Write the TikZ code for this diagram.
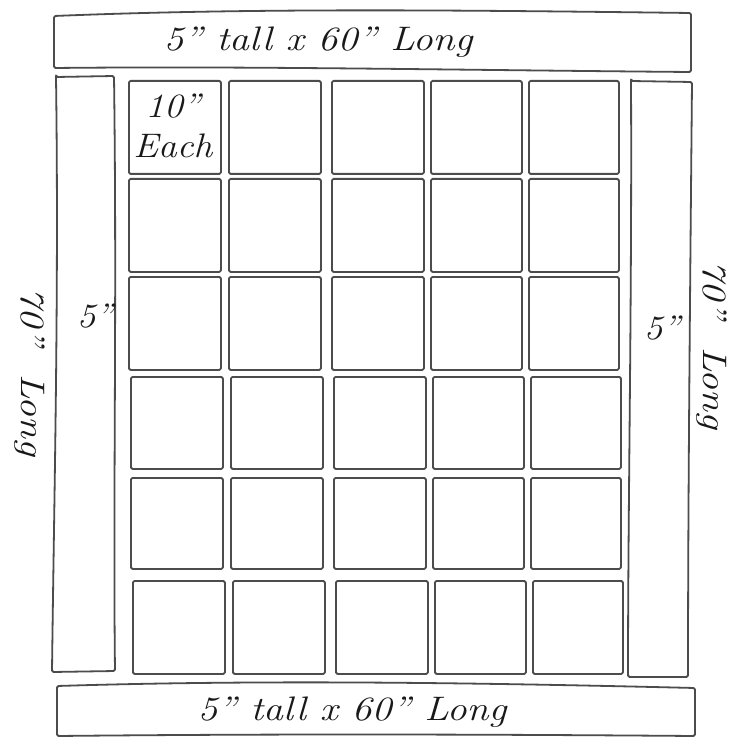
\documentclass[tikz,border=0pt]{standalone}
\usepackage{fontspec}
\begin{document}
\begin{tikzpicture}[x=1pt,y=-1pt,line join=round]
\tikzset{
  edge/.style={draw=black!70, line width=1.8pt, rounded corners=1.5pt},
  tile/.style={edge, inner sep=0pt, anchor=north west},
  lbl/.style={font=\itshape\fontsize{34}{36}\selectfont, text=black!90, inner sep=0pt},
  small/.style={font=\itshape\fontsize{34}{40}\selectfont, text=black!90, inner sep=0pt, align=center}
}
\useasboundingbox (0,0) rectangle (737,738);
\fill[white] (0,0) rectangle (737,738);
% top band
\draw[edge] (54,16) .. controls (250,8) and (450,10) .. (691,13) -- (691,72)
  .. controls (450,70) and (250,66) .. (54,68) -- cycle;
\node[lbl, xscale=1.17] (toplabel) at (318,42) {5” tall x 60” Long};
% bottom band
\draw[edge] (57,686) .. controls (250,680) and (450,682) .. (695,688) -- (695,736)
  .. controls (450,734) and (250,734) .. (57,736) -- cycle;
\node[lbl, xscale=1.17] (bottomlabel) at (352,712) {5” tall x 60” Long};
% left strip
\draw[edge] (56,77) -- (114,76) .. controls (117,300) and (113,500) .. (115,671)
  -- (52,672) .. controls (54,500) and (59,300) .. (56,77) -- cycle;
\node[lbl, xscale=1.1] (leftw) at (95,316) {5”};
\node[lbl, rotate=-90, xscale=1.17] (leftl) at (30,372) {70”\ \ Long};
% right strip
\draw[edge] (631,81) -- (692,82) .. controls (690,300) and (688,500) .. (688,677)
  -- (628,677) .. controls (628,500) and (632,300) .. (631,81) -- cycle;
\node[lbl, xscale=1.1] (rightw) at (662,328) {5”};
\node[lbl, rotate=-90, xscale=1.17] (rightl) at (712,345) {70”\ \ Long};
% tiles
\foreach \r/\y/\h/\dx in {1/80/93/0, 2/178/93/0, 3/276/93/0, 4/376/92/2, 5/477/91/2, 6/580/93/4}{
  \foreach \c/\x/\w in {1/128/92, 2/228/92, 3/331/92, 4/430/91, 5/528/90}{
    \node[tile, minimum width=\w pt, minimum height=\h pt] (t\r\c) at (\x+\dx,\y) {};
  }
}
\node[small, xscale=1.1] (each) at ([xshift=-2pt,yshift=2pt]t11.center) {10”\\Each};
\end{tikzpicture}
\end{document}
